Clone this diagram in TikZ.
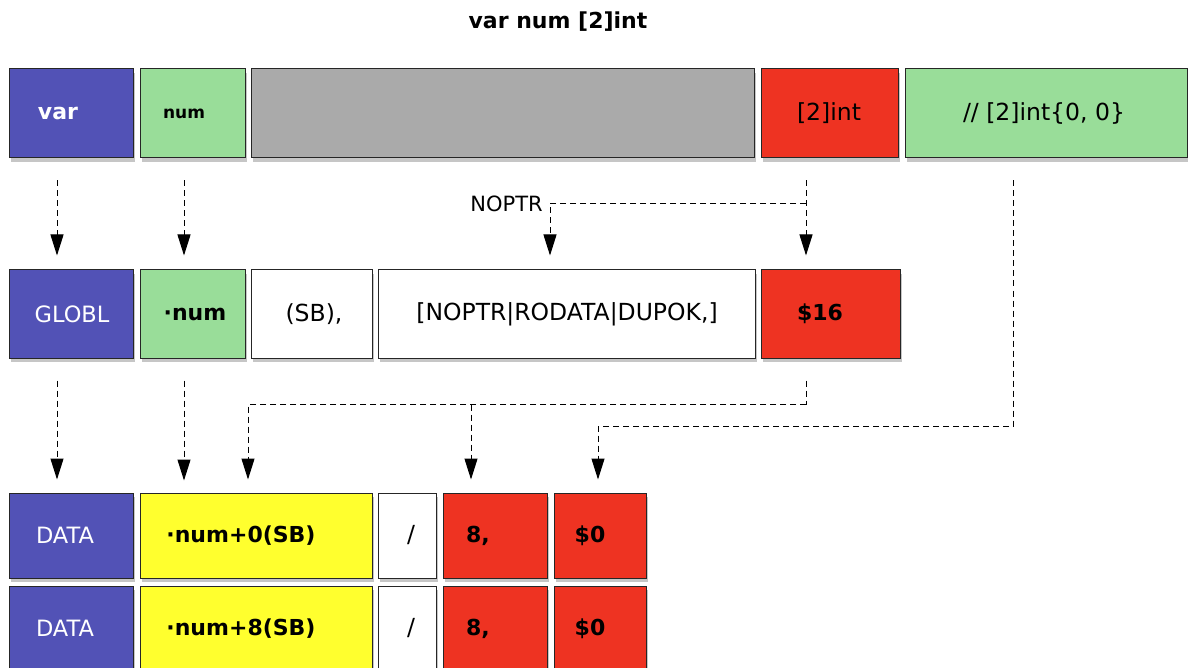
\documentclass[tikz,border=0pt]{standalone}
\usepackage{fontspec}
\setmainfont{DejaVu Sans}
\usetikzlibrary{calc,arrows.meta,shadows}
\definecolor{cblue}{HTML}{5252B6}
\definecolor{cgreen}{HTML}{99DD99}
\definecolor{cgray}{HTML}{AAAAAA}
\definecolor{cred}{HTML}{EE3322}
\definecolor{cyel}{HTML}{FFFF2E}
\begin{document}
\begin{tikzpicture}[x=1pt,y=-1pt,
  box/.style={draw=black!85, line width=1pt, inner sep=0pt,
    drop shadow={shadow xshift=2pt,shadow yshift=-4pt,opacity=0.45}},
  txt/.style={inner sep=0pt, font=\fontsize{23.5}{28}\selectfont},
  btxt/.style={txt, font=\fontsize{22}{26}\selectfont\bfseries},
  wtxt/.style={txt, text=white, font=\fontsize{22.5}{27}\selectfont},
  conn/.style={line width=1pt, dash pattern=on 6pt off 4pt},
  arr/.style={conn, -{Triangle[width=13pt,length=21pt]}}
]
\useasboundingbox (0,0) rectangle (1188,668);
% title
\node[btxt] (title) at (558,22) {var num [2]int};
% row 1
\node[box, fill=cblue, minimum width=124, minimum height=89] (var) at (71,113.5) {};
\node[btxt, text=white] (tvar) at (58,113.5) {var};
\node[box, fill=cgreen, minimum width=105, minimum height=89] (num) at (192.5,113.5) {};
\node[txt, font=\fontsize{17}{20}\selectfont\bfseries] (tnum) at (184,113.5) {num};
\node[box, fill=cgray, minimum width=503, minimum height=89] (gap) at (502.5,113.5) {};
\node[box, fill=cred, minimum width=137, minimum height=89] (typ) at (829.5,113.5) {};
\node[txt] (ttyp) at (829,113.5) {[2]int};
\node[box, fill=cgreen, minimum width=282, minimum height=89] (cmt) at (1046,113.5) {};
\node[txt] (tcmt) at (1044,113.5) {// [2]int\{0, 0\}};
% row 2
\node[box, fill=cblue, minimum width=124, minimum height=88] (globl) at (71,314) {};
\node[wtxt] (tglobl) at (72,314) {GLOBL};
\node[box, fill=cgreen, minimum width=105, minimum height=88] (dnum) at (192.5,314) {};
\node[btxt] (tdnum) at (195,314) {·num};
\node[box, fill=white, minimum width=121, minimum height=88] (sb) at (311.5,314) {};
\node[txt] (tsb) at (314,314) {(SB),};
\node[box, fill=white, minimum width=377, minimum height=88] (flags) at (566.5,314) {};
\node[txt] (tflags) at (567,314) {[NOPTR|RODATA|DUPOK,]};
\node[box, fill=cred, minimum width=139, minimum height=88] (s16) at (830.5,314) {};
\node[btxt] (ts16) at (820,314) {\$16};
% rows 3 and 4
\foreach \r/\cy/\o in {1/535.5/0, 2/628.5/8}{
  \node[box, fill=cblue, minimum width=124, minimum height=85] (data\r) at (71,\cy) {};
  \node[wtxt] at (65,\cy) {DATA};
  \node[box, fill=cyel, minimum width=232, minimum height=85] (off\r) at (256,\cy) {};
  \node[btxt] at (241,\cy) {·num+\o(SB)};
  \node[box, fill=white, minimum width=58, minimum height=85] (sl\r) at (407,\cy) {};
  \node[txt] at (411,\cy) {/};
  \node[box, fill=cred, minimum width=104, minimum height=85] (e\r) at (495,\cy) {};
  \node[btxt] at (478,\cy) {8,};
  \node[box, fill=cred, minimum width=92, minimum height=85] (z\r) at (600,\cy) {};
  \node[btxt] at (590,\cy) {\$0};
}
% connectors row1 -> row2
\draw[arr] ($(var.south)+(-14,22)$) -- ($(globl.north)+(-14,-14)$);
\draw[arr] ($(num.south)+(-8.5,22)$) -- ($(dnum.north)+(-8.5,-14)$);
\coordinate (j1) at ($(typ.south)+(-23.5,45)$);
\draw[arr] ($(typ.south)+(-23.5,22)$) -- ($(s16.north)+(-24.5,-14)$);
\draw[arr] (j1) -| ($(flags.north)+(-16.5,-14)$) coordinate[pos=0.5] (k1);
\node[txt, font=\fontsize{21}{25}\selectfont, anchor=east] (noptr) at ($(k1)+(-7,0)$) {NOPTR};
% comment -> $0
\draw[arr] ($(cmt.south)+(-33,22)$) |- ($(z1.north)+(-2,-66)$) -- ($(z1.north)+(-2,-13)$);
% row2 -> row3
\draw[arr] ($(globl.south)+(-14,22)$) -- ($(data1.north)+(-14,-13)$);
\draw[arr] ($(dnum.south)+(-8.5,22)$) -- ($(dnum.south)+(-8.5,122)$);
\coordinate (j2) at ($(s16.south)+(-24.5,46)$);
\draw[conn] ($(s16.south)+(-24.5,22)$) -- (j2);
\draw[arr] (j2) -| ($(off1.north)+(-8,-13)$);
\draw[arr] (j2 -| e1.north) ++(-24,0) -- ($(e1.north)+(-24,-13)$);
\end{tikzpicture}
\end{document}
